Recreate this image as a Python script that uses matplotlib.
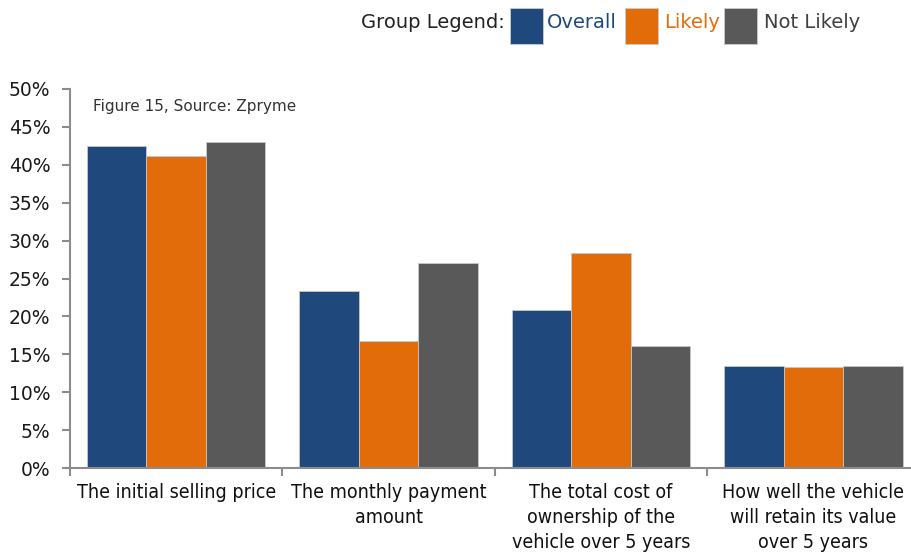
import matplotlib
matplotlib.use("Agg")
import matplotlib.pyplot as plt
import numpy as np
from matplotlib.patches import Rectangle

categories = [
    "The initial selling price",
    "The monthly payment\namount",
    "The total cost of\nownership of the\nvehicle over 5 years",
    "How well the vehicle\nwill retain its value\nover 5 years",
]
overall = [42.5, 23.3, 20.8, 13.4]
likely = [41.2, 16.7, 28.4, 13.3]
not_likely = [43.0, 27.1, 16.1, 13.4]
series_names = ["Overall", "Likely", "Not Likely"]
colors = ["#1F497D", "#E36C0A", "#595959"]
yticks = [0, 5, 10, 15, 20, 25, 30, 35, 40, 45, 50]

fig = plt.figure(figsize=(9.12, 5.56), dpi=100)
ax = fig.add_axes([70 / 912, 88 / 556, (919.6 - 70) / 912, 379 / 556])

x = np.arange(len(categories)) + 0.5
w = 0.28
for i, (vals, c) in enumerate(zip([overall, likely, not_likely], colors)):
    ax.bar(x + (i - 1) * w, vals, width=w, color=c, edgecolor="#c8c8c8", linewidth=0.6)

ax.set_xlim(0, 4)
ax.set_ylim(0, 50)
ax.set_yticks(yticks)
ax.set_yticklabels([f"{v}%" for v in yticks], fontsize=13.5, color="#1a1a1a")
ax.set_xticks(np.arange(0, 5))
ax.set_xticklabels([])
ax.set_xticks(x, minor=True)
ax.set_xticklabels(categories, minor=True, fontsize=14, fontstretch="condensed",
                   family=["DejaVu Sans"], color="#111111",
                   linespacing=1.4)
ax.tick_params(axis="x", which="minor", length=0, pad=11)
ax.tick_params(axis="x", which="major", length=6, width=1.5, color="#8c8c8c", direction="out")
ax.tick_params(axis="y", length=6, width=1.5, color="#8c8c8c", direction="out", pad=8)
for s in ["top", "right"]:
    ax.spines[s].set_visible(False)
for s in ["left", "bottom"]:
    ax.spines[s].set_color("#8c8c8c")
    ax.spines[s].set_linewidth(1.5)

ax.text(0.11, 47.7, "Figure 15, Source: Zpryme", fontsize=11, color="#333333",
        va="center", ha="left")

# legend
fy = 1 - 23 / 556
fig.text(361 / 912, fy, "Group Legend:", fontsize=14, color="#222222", va="center", ha="left")
patch_x = [510, 625, 724]
text_x = [547, 664, 764]
text_colors = ["#1F497D", "#E36C0A", "#404040"]
for px, tx, c, tc, name in zip(patch_x, text_x, colors, text_colors, series_names):
    fig.patches.append(Rectangle((px / 912, 1 - 44 / 556), 33 / 912, 36 / 556,
                                 transform=fig.transFigure, facecolor=c,
                                 edgecolor="#cccccc", linewidth=0.6))
    fig.text(tx / 912, fy, name, fontsize=14, color=tc, va="center", ha="left")

fig.savefig("out.png", dpi=100)
